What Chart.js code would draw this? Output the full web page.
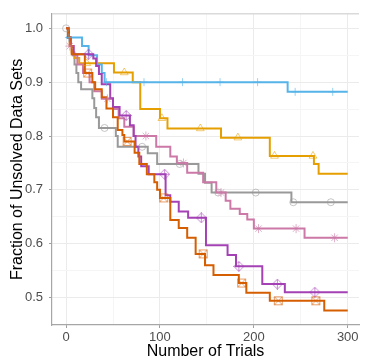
<!DOCTYPE html>
<html>
<head>
<meta charset="utf-8">
<script src="https://cdn.jsdelivr.net/npm/chart.js@4/dist/chart.umd.min.js"></script>
<style>
html, body { margin: 0; padding: 0; background: #fff; }
#wrap { width: 365px; height: 360px; }
</style>
</head>
<body>
<div id="wrap"><canvas id="chart" width="365" height="360"></canvas></div>
<script>
// step curves: value drops to Y at the matching X
var grayX = [0, 3, 5, 7, 9, 11, 13, 16, 28, 30, 32, 35, 53, 55, 87, 97, 141, 148, 155, 240, 300];
var grayY = [1.0, 0.983, 0.967, 0.95, 0.933, 0.917, 0.9, 0.887, 0.87, 0.852, 0.835, 0.815, 0.8, 0.78, 0.768, 0.748, 0.73, 0.713, 0.695, 0.677, 0.677];

var yellowX = [0, 2, 4, 6, 9, 14, 51, 71, 79, 100, 108, 165, 217, 264, 269, 300];
var yellowY = [1.0, 0.983, 0.967, 0.955, 0.945, 0.935, 0.918, 0.9, 0.85, 0.833, 0.814, 0.797, 0.763, 0.748, 0.73, 0.73];

var blueX = [0, 17, 24, 33, 38, 41, 236, 300];
var blueY = [0.983, 0.967, 0.95, 0.933, 0.917, 0.9, 0.882, 0.882];

var pinkX = [0, 2, 4, 8, 12, 18, 25, 30, 38, 50, 56, 62, 72, 96, 111, 118, 129, 146, 160, 170, 175, 185, 193, 200, 254, 300];
var pinkY = [1.0, 0.983, 0.967, 0.95, 0.933, 0.917, 0.9, 0.883, 0.869, 0.85, 0.833, 0.817, 0.8, 0.78, 0.762, 0.75, 0.732, 0.714, 0.695, 0.68, 0.665, 0.655, 0.645, 0.628, 0.611, 0.611];

var purpleX = [0, 3, 5, 8, 29, 32, 35, 38, 47, 50, 57, 68, 72, 74, 77, 80, 88, 106, 111, 120, 130, 149, 172, 181, 209, 233, 300];
var purpleY = [1.0, 0.983, 0.967, 0.952, 0.944, 0.93, 0.915, 0.896, 0.87, 0.854, 0.838, 0.82, 0.8, 0.78, 0.762, 0.744, 0.729, 0.69, 0.678, 0.66, 0.648, 0.597, 0.579, 0.558, 0.525, 0.51, 0.51];

var vermX = [0, 2, 4, 6, 20, 28, 31, 38, 43, 50, 55, 60, 62, 73, 78, 86, 94, 97, 100, 111, 120, 129, 138, 148, 157, 184, 192, 217, 275, 300];
var vermY = [1.0, 0.983, 0.967, 0.952, 0.917, 0.9, 0.887, 0.872, 0.851, 0.835, 0.811, 0.802, 0.79, 0.769, 0.748, 0.729, 0.714, 0.7, 0.685, 0.644, 0.629, 0.611, 0.581, 0.56, 0.542, 0.527, 0.509, 0.494, 0.476, 0.476];

// where the shape markers sit along each curve
var grayMarkX = [0, 41, 81, 121, 162, 202, 242, 282];
var blueMarkX = [3, 43, 83, 124, 164, 204, 244, 284];
var pinkMarkX = [4, 44, 85, 125, 165, 205, 245, 286];
var yellowMarkX = [22, 62, 102, 143, 183, 222, 263];
var purpleMarkX = [24, 64, 105, 144, 184, 225, 265];
var vermMarkX = [23, 65, 104, 146, 187, 226, 266];

var xMajor = [0, 100, 200, 300];
var xMinor = [50, 150, 250];
var yMajor = [0.5, 0.6, 0.7, 0.8, 0.9, 1.0];
var yMinor = [0.55, 0.65, 0.75, 0.85, 0.95];

var FONT = 'Liberation Sans, Arial, Helvetica, sans-serif';

var stepAt = function (xs, ys, x) {
    var v = ys[0];
    for (var i = 0; i < xs.length; i++) {
        if (xs[i] <= x) v = ys[i];
    }
    return v;
};

var toPoints = function (xs, ys) {
    return xs.map(function (x, i) { return {x: x, y: ys[i]}; });
};

var markerPoints = function (mx, xs, ys) {
    return mx.map(function (x) { return {x: x, y: stepAt(xs, ys, x)}; });
};

var isIn = function (list, v) {
    for (var i = 0; i < list.length; i++) {
        if (Math.abs(list[i] - v) < 1e-6) return true;
    }
    return false;
};

var makeMarker = function (kind, color) {
    var c = document.createElement('canvas');
    c.width = 11; c.height = 11;
    var g = c.getContext('2d');
    g.strokeStyle = color;
    g.lineWidth = 1;
    g.beginPath();
    if (kind === 'diamondPlus') {
        g.moveTo(5.5, 0.5); g.lineTo(10.5, 5.5); g.lineTo(5.5, 10.5); g.lineTo(0.5, 5.5); g.closePath();
        g.moveTo(5.5, 0.5); g.lineTo(5.5, 10.5);
        g.moveTo(0.5, 5.5); g.lineTo(10.5, 5.5);
    } else {
        g.rect(1.5, 1.5, 8, 8);
        g.moveTo(1.5, 1.5); g.lineTo(9.5, 9.5);
        g.moveTo(9.5, 1.5); g.lineTo(1.5, 9.5);
    }
    g.stroke();
    return c;
};

var lineSet = function (xs, ys, color) {
    return {
        type: 'line',
        data: toPoints(xs, ys),
        borderColor: color,
        borderWidth: 2,
        stepped: true,
        pointRadius: 0,
        fill: false
    };
};

var markSet = function (mx, xs, ys, color, style, radius) {
    return {
        type: 'scatter',
        data: markerPoints(mx, xs, ys),
        showLine: false,
        pointStyle: style,
        pointRadius: radius,
        pointBorderWidth: 1,
        pointBorderColor: color,
        pointBackgroundColor: 'rgba(0,0,0,0)'
    };
};

var panelBorder = {
    id: 'panelBorder',
    beforeDatasetsDraw: function (chart) {
        var a = chart.chartArea, ctx = chart.ctx;
        ctx.save();
        ctx.strokeStyle = '#DADADA';
        ctx.lineWidth = 1.5;
        ctx.beginPath();
        ctx.moveTo(a.left, a.top);
        ctx.lineTo(a.right, a.top);
        ctx.stroke();
        ctx.restore();
    }
};

var datasets = [
    markSet(vermMarkX, vermX, vermY, 'rgba(213,94,0,0.55)', makeMarker('squareCross', 'rgba(213,94,0,0.6)'), 5),
    markSet(purpleMarkX, purpleX, purpleY, 'rgba(164,65,181,0.55)', makeMarker('diamondPlus', 'rgba(164,65,181,0.6)'), 5),
    markSet(pinkMarkX, pinkX, pinkY, 'rgba(204,121,167,0.6)', 'star', 4.5),
    markSet(blueMarkX, blueX, blueY, 'rgba(86,180,233,0.6)', 'cross', 4),
    markSet(yellowMarkX, yellowX, yellowY, 'rgba(230,159,0,0.55)', 'triangle', 4.5),
    markSet(grayMarkX, grayX, grayY, 'rgba(153,153,153,0.55)', 'circle', 3.5),
    lineSet(vermX, vermY, '#D55E00'),
    lineSet(purpleX, purpleY, '#A441B5'),
    lineSet(pinkX, pinkY, '#CC79A7'),
    lineSet(blueX, blueY, '#56B4E9'),
    lineSet(yellowX, yellowY, '#E69F00'),
    lineSet(grayX, grayY, '#999999')
];

new Chart(document.getElementById('chart'), {
    type: 'scatter',
    data: {datasets: datasets},
    plugins: [panelBorder],
    options: {
        responsive: false,
        animation: false,
        devicePixelRatio: 1,
        layout: {padding: {left: 10, top: 5, right: 0, bottom: 0}},
        plugins: {legend: {display: false}, tooltip: {enabled: false}},
        scales: {
            x: {
                type: 'linear',
                min: -15,
                max: 312,
                afterBuildTicks: function (scale) {
                    scale.ticks = xMajor.concat(xMinor).sort(function (a, b) { return a - b; })
                        .map(function (v) { return {value: v}; });
                },
                afterFit: function (scale) { scale.height = 35; },
                ticks: {
                    autoSkip: false,
                    maxRotation: 0,
                    padding: 2,
                    color: '#4D4D4D',
                    font: {family: FONT, size: 13},
                    callback: function (v) { return isIn(xMajor, v) ? String(v) : ''; }
                },
                grid: {
                    tickLength: 3,
                    color: function (c) { return isIn(xMajor, c.tick.value) ? '#EBEBEB' : '#F5F5F5'; },
                    tickColor: function (c) { return isIn(xMajor, c.tick.value) ? '#9E9E9E' : 'rgba(0,0,0,0)'; },
                    lineWidth: 1
                },
                border: {display: true, color: '#A6A6A6', width: 1.2},
                title: {
                    display: true,
                    text: 'Number of Trials',
                    color: '#000',
                    padding: 0,
                    font: {family: FONT, size: 16, lineHeight: 1}
                }
            },
            y: {
                type: 'linear',
                min: 0.449,
                max: 1.027,
                afterBuildTicks: function (scale) {
                    scale.ticks = yMajor.concat(yMinor).sort(function (a, b) { return a - b; })
                        .map(function (v) { return {value: v}; });
                },
                afterFit: function (scale) { scale.width = 42; },
                ticks: {
                    autoSkip: false,
                    padding: 6,
                    color: '#4D4D4D',
                    font: {family: FONT, size: 13},
                    callback: function (v) { return isIn(yMajor, v) ? v.toFixed(1) : ''; }
                },
                grid: {
                    tickLength: 3,
                    color: function (c) { return isIn(yMajor, c.tick.value) ? '#EBEBEB' : '#F5F5F5'; },
                    tickColor: function (c) { return isIn(yMajor, c.tick.value) ? '#9E9E9E' : 'rgba(0,0,0,0)'; },
                    lineWidth: 1
                },
                border: {display: true, color: '#A6A6A6', width: 1.2},
                title: {
                    display: true,
                    text: 'Fraction of Unsolved Data Sets',
                    color: '#000',
                    padding: 0,
                    font: {family: FONT, size: 16, lineHeight: 1}
                }
            }
        }
    }
});
</script>
</body>
</html>
